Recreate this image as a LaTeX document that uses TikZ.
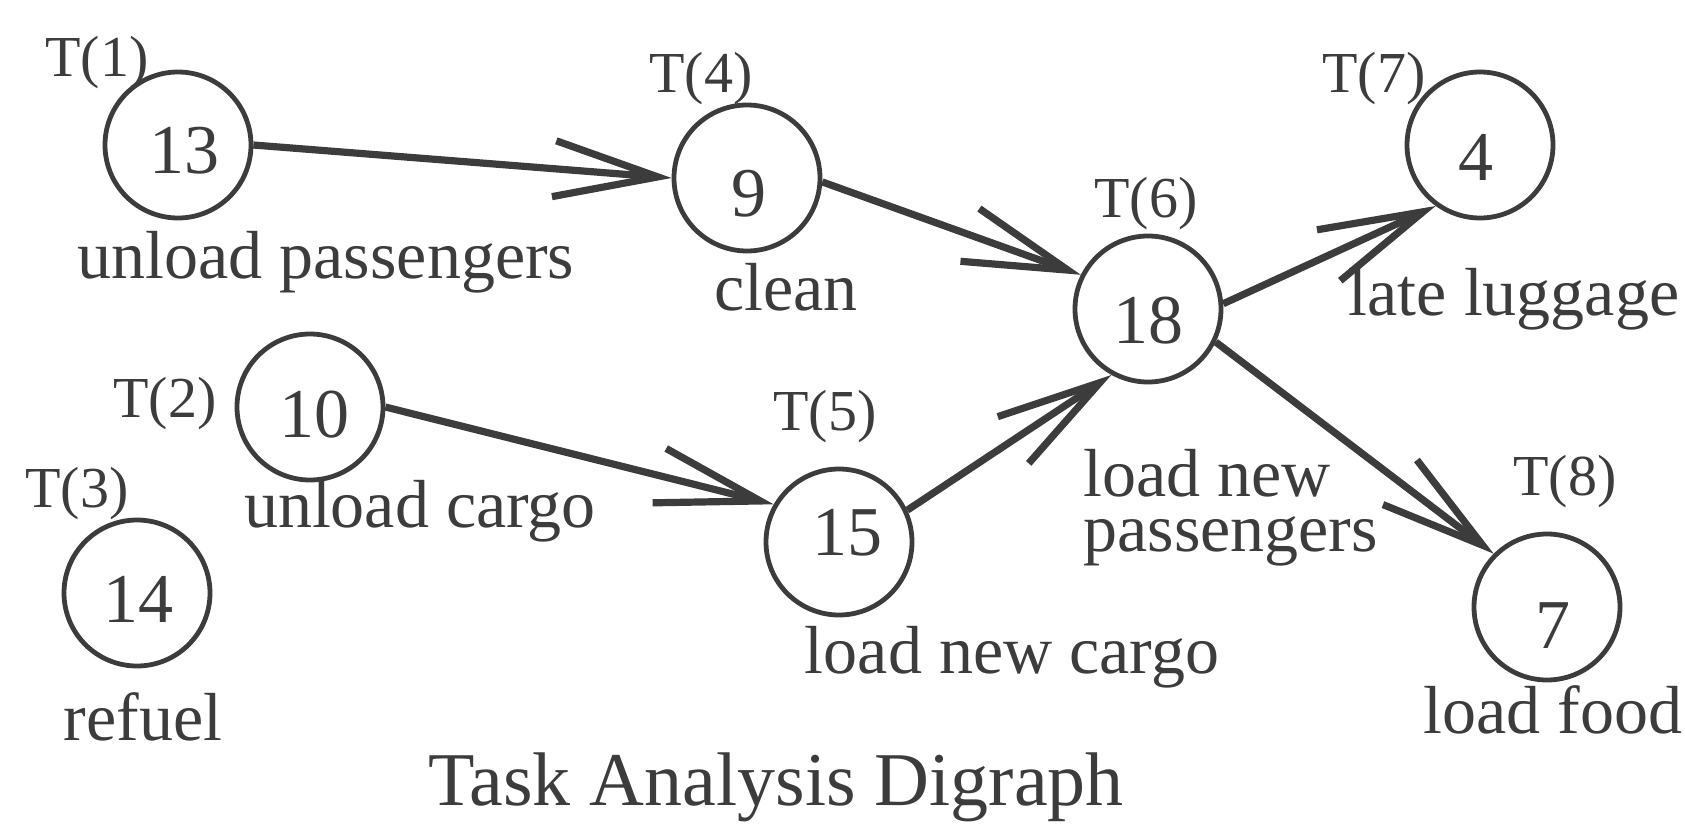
\documentclass[tikz,border=0pt]{standalone}
\usepackage{fontspec}
\setmainfont{Liberation Serif}
\usetikzlibrary{arrows.meta}
\definecolor{ink}{RGB}{60,60,60}
\tikzset{
  circ/.style={circle, draw=ink, line width=2.4pt, minimum size=73pt, inner sep=0pt},
  num/.style={anchor=base, text=ink, font=\fontsize{35}{40}\selectfont, inner sep=0pt},
  tlab/.style={anchor=base, text=ink, font=\fontsize{29}{33}\selectfont, inner sep=0pt},
  lab/.style={anchor=base, text=ink, font=\fontsize{34}{27.5}\selectfont, inner sep=0pt},
  edge/.style={draw=ink, line width=3.6pt, -{Straight Barb[length=52pt, width=28pt]}},
}
\begin{document}
\begin{tikzpicture}[x=0.5pt, y=-0.5pt]
\useasboundingbox (0,0) rectangle (1685,824);
% circles
\node[circ] (n13) at (178,145) {};
\node[circ] (n9)  at (747,178) {};
\node[circ] (n18) at (1148,309) {};
\node[circ] (n4)  at (1480,145) {};
\node[circ] (n10) at (310,407) {};
\node[circ] (n14) at (137,593) {};
\node[circ] (n15) at (839,542) {};
\node[circ] (n7)  at (1547,607) {};
% numbers
\node[num] (d13) at (184,173) {13};
\node[num] (d9)  at (749,216) {9};
\node[num] (d18) at (1148,343) {18};
\node[num] (d4)  at (1476,180) {4};
\node[num] (d10) at (314,437) {10};
\node[num] (d14) at (138,622) {14};
\node[num] (d15) at (847,555) {15};
\node[num] (d7)  at (1553,648) {7};
% task labels
\node[tlab] (t1) at (97,77) {T(1)};
\node[tlab] (t4) at (701,93) {T(4)};
\node[tlab] (t6) at (1146,217) {T(6)};
\node[tlab] (t7) at (1374,93) {T(7)};
\node[tlab] (t2) at (165,417) {T(2)};
\node[tlab] (t3) at (77,507) {T(3)};
\node[tlab] (t5) at (825,430) {T(5)};
\node[tlab] (t8) at (1565,495) {T(8)};
% descriptions
\node[lab] (l13) at (326,278) {unload passengers};
\node[lab] (l9)  at (786,310) {clean};
\node[lab] (l4)  at (1514,315) {late luggage};
\node[lab] (l10) at (420,527) {unload cargo};
\node[lab] (l14) at (143,740) {refuel};
\node[lab] (l15) at (1012,673) {load new cargo};
\node[lab, anchor=north west, align=left] (l18) at (1083,449) {load new\\passengers};
\node[lab] (l7)  at (1553,733) {load food};
\node[lab, font=\fontsize{38}{42}\selectfont] (title) at (776,805) {Task Analysis Digraph};
% edges
\draw[edge] (n13.east) -- (n9.west);
\draw[edge] (n9.-3) -- (n18.153);
\draw[edge] (n10.east) -- (n15.150);
\draw[edge] (n15.25) -- (n18.241);
\draw[edge] (n18.4) -- (n4.234);
\draw[edge] (n18.-26) -- (n7.135);
\end{tikzpicture}
\end{document}
